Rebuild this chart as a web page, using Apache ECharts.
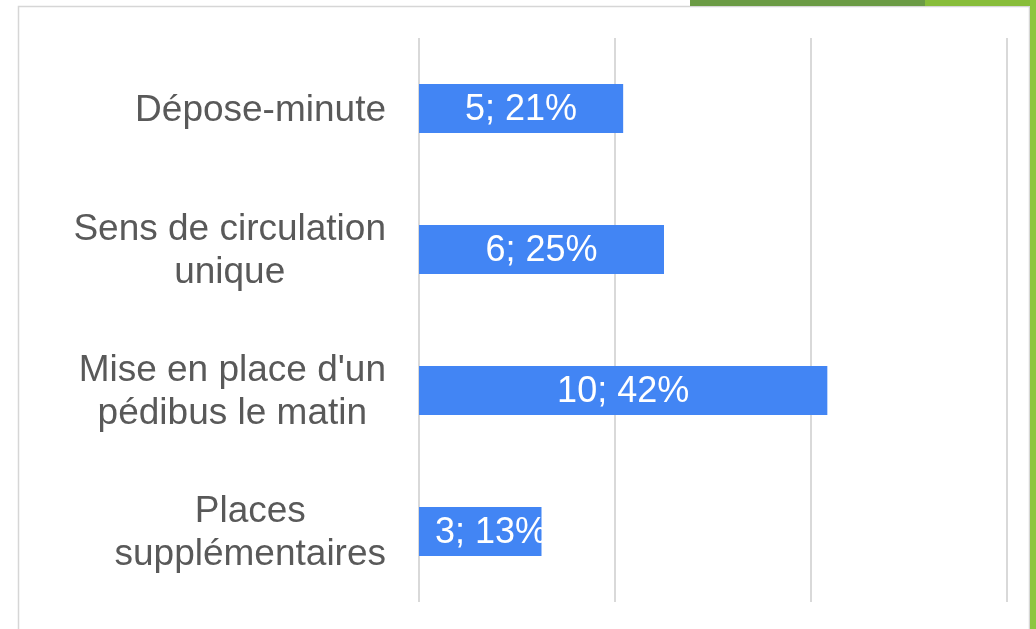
<!DOCTYPE html>
<html>
<head>
<meta charset="utf-8">
<script src="https://cdn.jsdelivr.net/npm/echarts@6/dist/echarts.min.js"></script>
<style>
html,body{margin:0;padding:0;background:#ffffff;}
#chart{width:1036px;height:629px;}
</style>
</head>
<body>
<div id="chart"></div>
<script>
const categories = ["Dépose-minute", "Sens de circulation\nunique", "Mise en place d'un\npédibus le matin", "Places\nsupplémentaires"];
const counts = [5, 6, 10, 3];
const percents = [21, 25, 42, 13];
const axisMax = 14.4;
const axisStep = 4.8;

const chart = echarts.init(document.getElementById('chart'));
const barData = counts.map(function (v, i) {
  const item = { value: v };
  if (i === 3) {
    item.label = { position: 'insideLeft', distance: 16 };
  }
  return item;
});

chart.setOption({
  backgroundColor: '#ffffff',
  animation: false,
  graphic: [
    { type: 'rect', shape: { x: 18.5, y: 6.5, width: 1011, height: 640 }, style: { fill: '#ffffff', stroke: '#d6d6d6', lineWidth: 1.5 }, z: -10 },
    { type: 'rect', shape: { x: 690, y: 0, width: 240, height: 6 }, style: { fill: '#6b9b45' }, z: -5 },
    { type: 'rect', shape: { x: 925, y: 0, width: 111, height: 6 }, style: { fill: '#88bd3a' }, z: -5 },
    { type: 'rect', shape: { x: 1030, y: 0, width: 6, height: 629 }, style: { fill: '#8dc63f' }, z: -5 }
  ],
  grid: { left: 419, right: 29, top: 38, bottom: 27, containLabel: false },
  xAxis: {
    type: 'value', min: 0, max: axisMax, interval: axisStep,
    axisLabel: { show: false }, axisLine: { show: false }, axisTick: { show: false },
    splitLine: { show: true, lineStyle: { color: '#d9d9d9', width: 2 } }
  },
  yAxis: {
    type: 'category', inverse: true, data: categories,
    axisLine: { show: false }, axisTick: { show: false },
    axisLabel: {
      margin: 33,
      padding: [4, 0, 0, 0],
      formatter: function (v) {
        return v.split('\n').map(function (l) { return '{a|' + l + '}'; }).join('\n');
      },
      rich: {
        a: { align: 'center', fontFamily: 'Liberation Sans, Arial, sans-serif', fontSize: 37, color: '#595959', lineHeight: 43 }
      }
    }
  },
  series: [{
    type: 'bar',
    data: barData,
    barWidth: 49,
    itemStyle: { color: '#4285f4' },
    label: {
      show: true, position: 'inside', color: '#ffffff', offset: [0, 2],
      fontFamily: 'Liberation Sans, Arial, sans-serif', fontSize: 36,
      formatter: function (p) { return counts[p.dataIndex] + '; ' + percents[p.dataIndex] + '%'; }
    }
  }]
});
</script>
</body>
</html>
